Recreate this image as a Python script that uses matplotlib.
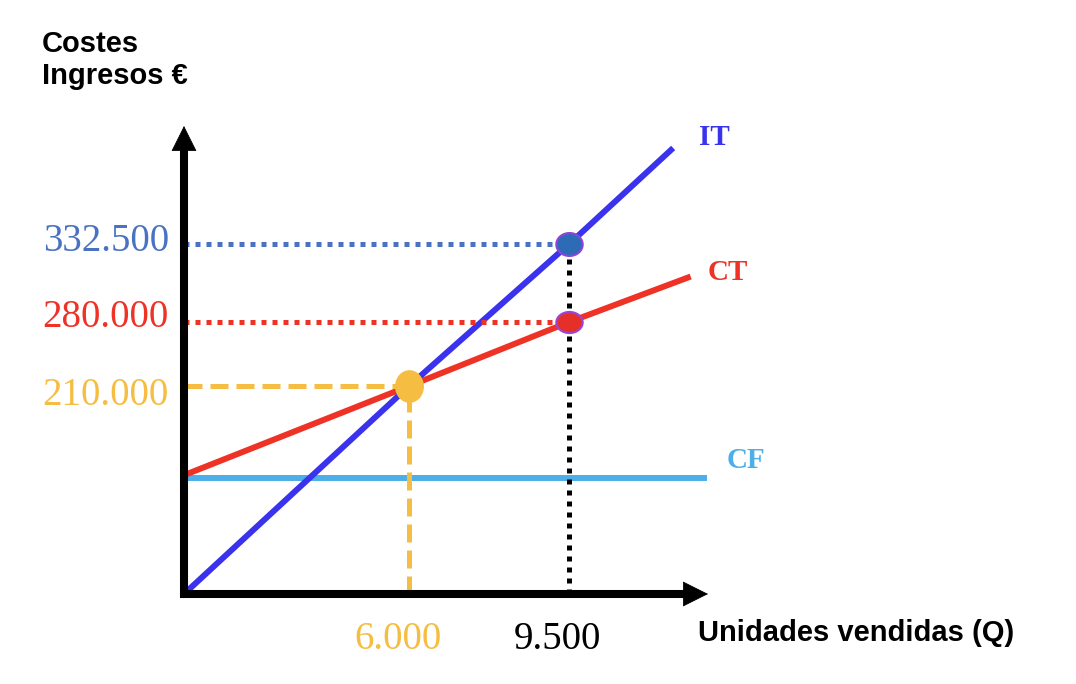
import numpy as np
import matplotlib
matplotlib.use('Agg')
from matplotlib import pyplot as plt
from matplotlib.path import Path
from matplotlib.transforms import Affine2D

# punto muerto / ventas (unidades, euros)
q_be = 6000
q_sold = 9500
eur_be = 210000
eur_ct = 280000
eur_it = 332500

# rectas del grafico
it_q = [0, 6000, 9500, 11730]
it_eur = [0, 210000, 332500, 411000]
ct_q = [0, 6000, 9500, 12100]
ct_eur = [120000, 210000, 280000, 310000]
cf_q = [0, 12450]
cf_eur = [117000, 117000]

y_vals = [332500, 280000, 210000]
y_labels = ['332.500', '280.000', '210.000']
x_vals = [6000, 9500]
x_labels = ['6.000', '9.500']

BLUE = '#3a32ec'
RED = '#ee3226'
LBLUE = '#4eaee8'
YEL = '#f5be42'
SBLUE = '#4a72c2'

# the drawing is a sketch, not to scale -> piecewise axes
x_knots = [-10000, 0, 6000, 9500, 20000]
x_pos = [-375, 0, 225, 385, 865]
y_knots = [-1e6, 0, 210000, 280000, 332500, 1e6]
y_pos = [-990, 0, 208, 272, 350, 1151]

def fwd_x(v):
    return np.interp(v, x_knots, x_pos)

def inv_x(p):
    return np.interp(p, x_pos, x_knots)

def fwd_y(v):
    return np.interp(v, y_knots, y_pos)

def inv_y(p):
    return np.interp(p, y_pos, y_knots)

def ellipse(sx, sy):
    return Affine2D().scale(sx, sy).transform_path(Path.unit_circle())


fig = plt.figure(figsize=(10.76, 6.84), dpi=100)
ax = fig.add_axes([184 / 1076, 90 / 684, 524 / 1076, 468 / 684])
ax.set_xscale('function', functions=(fwd_x, inv_x))
ax.set_yscale('function', functions=(fwd_y, inv_y))
ax.set_xlim(0, 12540)
ax.set_ylim(0, 431000)
ax.axis('off')

# lines
ax.plot(cf_q, cf_eur, color=LBLUE, lw=4.3, clip_on=False, zorder=2)
ax.plot(ct_q, ct_eur, color=RED, lw=4.3, clip_on=False, zorder=3)
ax.plot(it_q, it_eur, color=BLUE, lw=4.3, clip_on=False, zorder=4)

# guides
dot = (0, (1, 1.2))
ax.plot([0, q_sold], [eur_it, eur_it], color=SBLUE, lw=3.6, ls=dot, clip_on=False, zorder=5)
ax.plot([0, q_sold], [eur_ct, eur_ct], color=RED, lw=3.6, ls=dot, clip_on=False, zorder=5)
ax.plot([q_sold, q_sold], [0, eur_it], color='black', lw=3.6, ls=dot, clip_on=False, zorder=5)
ax.plot([0, q_be], [eur_be, eur_be], color=YEL, lw=3.6, ls=(0, (3.6, 1.6)), clip_on=False, zorder=5)
ax.plot([q_be, q_be], [0, eur_be], color=YEL, lw=3.6, ls=(0, (3.6, 1.6)), clip_on=False, zorder=5)

# points
ax.plot(q_sold, eur_it, marker=ellipse(1, 0.87), ms=19, mfc='#2d6bb6', mec='#8d45d8',
        mew=1.5, clip_on=False, zorder=6)
ax.plot(q_sold, eur_ct, marker=ellipse(1, 0.8), ms=19, mfc='#e5302a', mec='#9b45d8',
        mew=1.5, clip_on=False, zorder=6)
ax.plot(q_be, eur_be, marker=ellipse(0.88, 1), ms=22.5, mfc=YEL, mec=YEL, clip_on=False, zorder=6)

# axes: thick shafts + filled heads
ax.plot([-0.008, 0.97], [0, 0], color='black', lw=5.8, transform=ax.transAxes,
        clip_on=False, zorder=7, solid_capstyle='butt')
ax.plot([0, 0], [-0.009, 0.96], color='black', lw=5.8, transform=ax.transAxes,
        clip_on=False, zorder=7, solid_capstyle='butt')
head = dict(arrowstyle='-|>,head_length=0.4,head_width=0.2', color='black', lw=0.5,
            mutation_scale=43, shrinkA=0, shrinkB=0)
ax.annotate('', xy=(1, 0), xytext=(0.5, 0), xycoords='axes fraction',
            arrowprops=head, annotation_clip=False, zorder=7)
ax.annotate('', xy=(0, 1), xytext=(0, 0.5), xycoords='axes fraction',
            arrowprops=head, annotation_clip=False, zorder=7)

# labels of lines
lab = dict(family='Liberation Serif', weight='bold', fontsize=21, ha='center', va='center',
           textcoords='offset points', annotation_clip=False)
ax.annotate('IT', xy=(it_q[-1], it_eur[-1]), xytext=(31, 9), color=BLUE, **lab)
ax.annotate('CT', xy=(ct_q[-1], ct_eur[-1]), xytext=(29, 4), color=RED, **lab)
ax.annotate('CF', xy=(cf_q[-1], cf_eur[-1]), xytext=(30, 13), color=LBLUE, **lab)

# value labels
y_cols = [SBLUE, RED, YEL]
y_dy = [2, 3, -7]
for v, t, c, d in zip(y_vals, y_labels, y_cols, y_dy):
    ax.annotate(t, xy=(0, v), xycoords=('axes fraction', 'data'), xytext=(-11, d),
                textcoords='offset points', ha='right', va='center', color=c,
                family='Liberation Serif', fontsize=28, annotation_clip=False)
x_cols = [YEL, 'black']
for v, t, c in zip(x_vals, x_labels, x_cols):
    ax.annotate(t, xy=(v, 0), xycoords=('data', 'axes fraction'), xytext=(-8, -33),
                textcoords='offset points', ha='center', va='center', color=c,
                family='Liberation Serif', fontsize=28, annotation_clip=False)

title = dict(ha='left', va='baseline', family='Liberation Sans', weight='bold', fontsize=21)
fig.text(42 / 1076, 1 - 52 / 684, 'Costes', **title)
fig.text(42 / 1076, 1 - 83.5 / 684, 'Ingresos €', **title)
fig.text(698 / 1076, 1 - 641 / 684, 'Unidades vendidas (Q)', **title)

fig.savefig('out.png', dpi=100)
